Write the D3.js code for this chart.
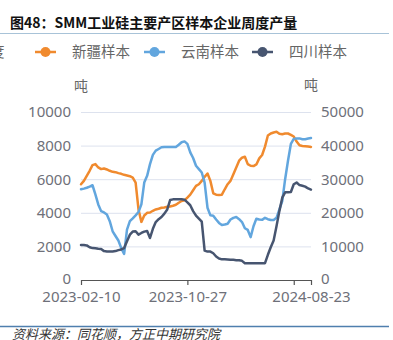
<!DOCTYPE html>
<html>
<head>
<meta charset="utf-8">
<script src="https://cdn.jsdelivr.net/npm/d3@7"></script>
<style>
  html, body { margin: 0; padding: 0; background: #fff; }
  svg { display: block; }
</style>
</head>
<body>
<svg id="chart" width="393" height="340"></svg>
<script>
// Weekly dates (category axis)
const dates = [
  "2023-02-10","2023-02-17","2023-02-24","2023-03-03","2023-03-10","2023-03-17","2023-03-24","2023-03-31",
  "2023-04-07","2023-04-14","2023-04-21","2023-04-28","2023-05-05","2023-05-12","2023-05-19","2023-05-26",
  "2023-06-02","2023-06-09","2023-06-16","2023-06-23","2023-06-30","2023-07-07","2023-07-14","2023-07-21",
  "2023-07-28","2023-08-04","2023-08-11","2023-08-18","2023-08-25","2023-09-01","2023-09-08","2023-09-15",
  "2023-09-22","2023-09-29","2023-10-06","2023-10-13","2023-10-20","2023-10-27","2023-11-03","2023-11-10",
  "2023-11-17","2023-11-24","2023-12-01","2023-12-08","2023-12-15","2023-12-22","2023-12-29","2024-01-05",
  "2024-01-12","2024-01-19","2024-01-26","2024-02-02","2024-02-09","2024-02-16","2024-02-23","2024-03-01",
  "2024-03-08","2024-03-15","2024-03-22","2024-03-29","2024-04-05","2024-04-12","2024-04-19","2024-04-26",
  "2024-05-03","2024-05-10","2024-05-17","2024-05-24","2024-05-31","2024-06-07","2024-06-14","2024-06-21",
  "2024-06-28","2024-07-05","2024-07-12","2024-07-19","2024-07-26","2024-08-02","2024-08-09","2024-08-16",
  "2024-08-23"
];

// 新疆样本 (right axis, 吨)
const xinjiang = [
  28500,29500,31000,32500,34200,34500,33500,33000,33200,32900,32500,32200,32100,31800,31600,31300,
  31100,30900,30500,29000,21000,17300,19200,20000,20100,20600,21000,21200,21500,21600,21800,21900,
  22100,22400,23000,23500,23700,24500,25400,26700,28000,28500,29500,30700,31700,29500,25800,25400,
  25300,25400,27000,28500,29500,31500,33500,35500,36400,36700,34500,34000,33900,34400,36200,37200,
  39700,43000,43600,43900,44100,43500,43400,43600,43600,43200,42700,41200,40100,39900,39800,39700,
  39600
];

// 云南样本 (left axis, 吨)
const yunnan = [
  5400,5440,5490,5560,5640,5100,4500,4100,4020,3900,3500,2900,2620,2350,1900,1550,
  3000,3500,3670,3850,4050,4500,5800,6200,6900,7450,7700,7800,7900,7920,7920,7920,
  7920,7920,8050,8200,8250,8100,7600,7260,6800,6600,6400,5800,4300,3850,3830,3600,
  3400,3270,3300,3350,3600,3700,3750,3620,3450,3080,2980,2550,3200,3650,3600,3580,
  3700,3620,3570,3570,3700,4200,4700,6000,7100,8100,8400,8430,8430,8380,8380,8420,
  8450
];

// 四川样本 (left axis, 吨)
const sichuan = [
  2080,2080,2060,1950,1900,1890,1860,1840,1720,1700,1690,1700,1720,1780,1820,1900,
  2300,2700,2880,2900,2700,2800,2880,2920,2500,3050,3450,3620,3750,3950,4200,4760,
  4800,4800,4800,4800,4780,4620,4450,4100,3830,3650,3470,1750,1690,1690,1590,1400,
  1280,1230,1230,1220,1210,1200,1180,1170,1140,1000,990,990,990,990,990,990,
  1000,1500,1950,2350,3200,4100,4900,5220,5220,5240,5700,5800,5650,5610,5560,5450,
  5380
];

const leftTicks = [0, 2000, 4000, 6000, 8000, 10000];
const rightTicks = [0, 10000, 20000, 30000, 40000, 50000];
const xTickDates = ["2023-02-10", "2023-10-27", "2024-07-12", "2024-08-23"];
const xLabelDates = ["2023-02-10", "2023-10-27", "2024-08-23"];

const series = [
  { name: "新疆样本", values: xinjiang, axis: "right", color: "#F08A2E" },
  { name: "云南样本", values: yunnan, axis: "left", color: "#62A6DE" },
  { name: "四川样本", values: sichuan, axis: "left", color: "#475570" }
];

const svg = d3.select("#chart");
const plot = { left: 81, right: 311, top: 112, bottom: 280 };

const x = d3.scalePoint().domain(dates).range([plot.left, plot.right]);
const yLeft = d3.scaleLinear().domain([0, 10000]).range([plot.bottom, plot.top]);
const yRight = d3.scaleLinear().domain([0, 50000]).range([plot.bottom, plot.top]);

const fontUI = "'Noto Sans', 'Noto Sans CJK SC', sans-serif";
const fontCJK = "'Noto Sans CJK SC', 'Noto Sans', sans-serif";

// Title
svg.append("text")
  .attr("x", 10).attr("y", 28)
  .attr("font-family", fontCJK)
  .attr("font-size", 14)
  .attr("font-weight", "bold")
  .attr("fill", "#111")
  .text("图48：SMM工业硅主要产区样本企业周度产量");

svg.append("line")
  .attr("x1", 0).attr("x2", 389).attr("y1", 33.5).attr("y2", 33.5)
  .attr("stroke", "#a8c3d8").attr("stroke-width", 1);

// Legend
svg.append("text")
  .attr("x", -10).attr("y", 57)
  .attr("font-family", fontCJK).attr("font-size", 14.5)
  .attr("fill", "#666").text("度");

const legendPos = [35, 144, 252];
const legend = svg.append("g");
series.forEach((s, i) => {
  const g = legend.append("g").attr("transform", `translate(${legendPos[i]},52)`);
  g.append("line").attr("x1", 0).attr("x2", 21).attr("y1", 0).attr("y2", 0)
    .attr("stroke", s.color).attr("stroke-width", 2.5);
  g.append("circle").attr("cx", 10.5).attr("cy", 0).attr("r", 5).attr("fill", s.color);
  g.append("text").attr("x", 37).attr("y", 5)
    .attr("font-family", fontCJK).attr("font-size", 14.5)
    .attr("fill", "#666").text(s.name);
});

// Unit labels
svg.append("text").attr("x", 81).attr("y", 91).attr("text-anchor", "middle")
  .attr("font-family", fontCJK).attr("font-size", 14).attr("fill", "#666").text("吨");
svg.append("text").attr("x", 311).attr("y", 90).attr("text-anchor", "middle")
  .attr("font-family", fontCJK).attr("font-size", 14).attr("fill", "#666").text("吨");

// Grid lines
svg.append("g").selectAll("line").data(leftTicks.filter(d => d > 0)).join("line")
  .attr("x1", plot.left).attr("x2", plot.right)
  .attr("y1", d => yLeft(d) + 0.5).attr("y2", d => yLeft(d) + 0.5)
  .attr("stroke", "#dde2ee").attr("stroke-width", 1);

// Left axis
const axisL = svg.append("g").attr("transform", `translate(${plot.left - 10},0)`)
  .call(d3.axisLeft(yLeft).tickValues(leftTicks).tickSize(0).tickPadding(0).tickFormat(d3.format("d")));
axisL.select(".domain").remove();
axisL.selectAll("text").attr("font-family", fontUI).attr("font-size", 15).attr("fill", "#6e7079");
axisL.selectAll(".tick").filter(d => d === 0).select("text").attr("dy", "0.2em");

// Right axis
const axisR = svg.append("g").attr("transform", `translate(${plot.right + 10},0)`)
  .call(d3.axisRight(yRight).tickValues(rightTicks).tickSize(0).tickPadding(0).tickFormat(d3.format("d")));
axisR.select(".domain").remove();
axisR.selectAll("text").attr("font-family", fontUI).attr("font-size", 15).attr("fill", "#6e7079");
axisR.selectAll(".tick").filter(d => d === 0).select("text").attr("dy", "0.2em");

// Bottom axis
const axisB = svg.append("g").attr("transform", `translate(0,${plot.bottom})`)
  .call(d3.axisBottom(x).tickValues(xTickDates).tickSize(5).tickPadding(6)
    .tickFormat(d => xLabelDates.includes(d) ? d : ""));
axisB.select(".domain").attr("stroke", "#555").attr("stroke-width", 1.2)
  .attr("d", `M${plot.left},0.5H${plot.right}`);
axisB.selectAll(".tick line").attr("stroke", "#555").attr("stroke-width", 1.2);
axisB.selectAll("text").attr("font-family", fontUI).attr("font-size", 15).attr("fill", "#6e7079");

// Lines
series.forEach(s => {
  const y = s.axis === "left" ? yLeft : yRight;
  const line = d3.line().x((d, i) => x(dates[i])).y(d => y(d)).curve(d3.curveLinear);
  svg.append("path").datum(s.values)
    .attr("d", line)
    .attr("fill", "none")
    .attr("stroke", s.color)
    .attr("stroke-width", 2.5)
    .attr("stroke-linejoin", "round")
    .attr("stroke-linecap", "round");
});

// Footer
svg.append("line")
  .attr("x1", 0).attr("x2", 389).attr("y1", 326.5).attr("y2", 326.5)
  .attr("stroke", "#4f7fae").attr("stroke-width", 1.5);
svg.append("text")
  .attr("x", 12).attr("y", 339)
  .attr("font-family", fontCJK).attr("font-size", 13)
  .attr("font-style", "italic")
  .attr("fill", "#333")
  .text("资料来源：同花顺，方正中期研究院");
</script>
</body>
</html>
